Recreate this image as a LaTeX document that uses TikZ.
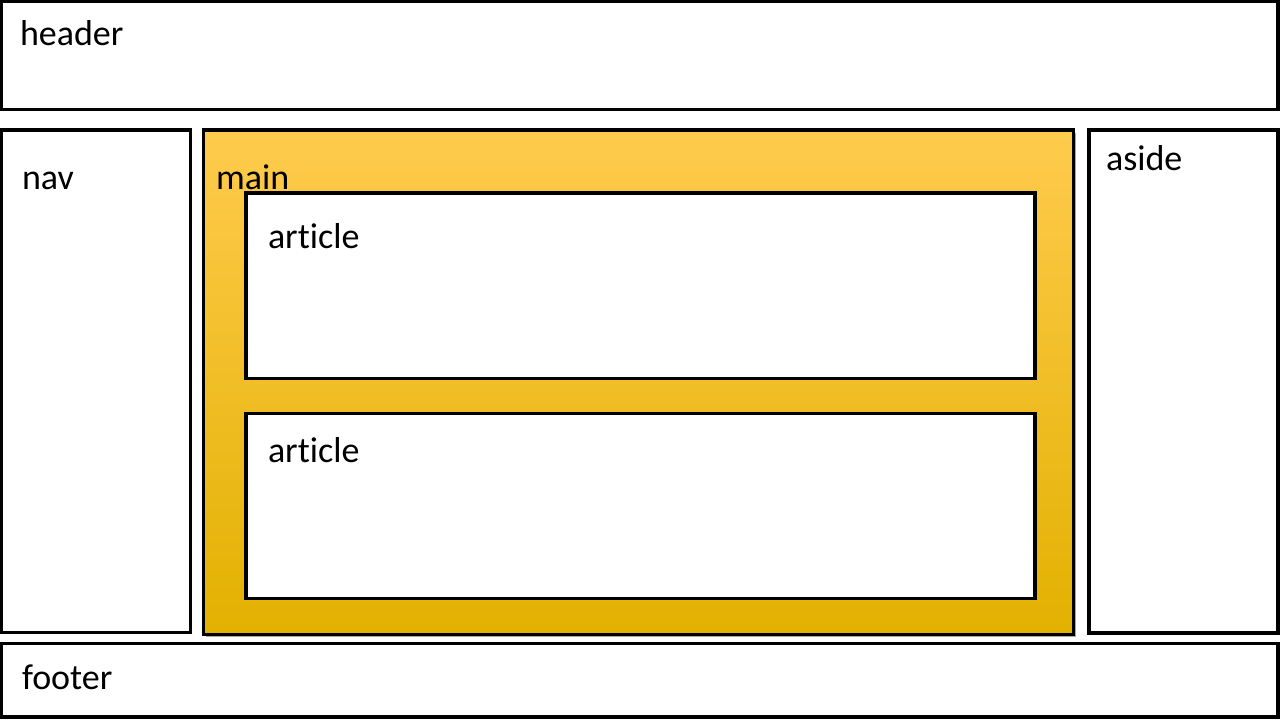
\documentclass[tikz,border=0pt]{standalone}
\usepackage{fontspec}
\setmainfont[Ligatures={NoCommon}]{Carlito}
\usetikzlibrary{shadows}
\definecolor{maintop}{HTML}{FFCB4D}
\definecolor{mainmid}{HTML}{FFC800}
\definecolor{mainbot}{HTML}{E2B100}
\tikzset{
  box/.style={draw=black, line width=3.5pt, fill=white, inner sep=0pt, outer sep=0pt, anchor=north west},
  mainbox/.style={box, top color=maintop, middle color=mainmid, bottom color=mainbot,
    drop shadow={shadow xshift=2.5pt, shadow yshift=-2.5pt, opacity=0.35, fill=black}},
  lbl/.style={anchor=base west, inner sep=0pt, outer sep=0pt, font=\fontsize{36pt}{40pt}\selectfont}
}
\begin{document}
\begin{tikzpicture}[x=1pt, y=-1pt]
  \useasboundingbox[fill=white] (0,0) rectangle (1280,720);
  % page regions
  \node[box, minimum width=1276.5pt, minimum height=108pt] (header) at (1.5,1.5) {};
  \node[box, minimum width=189pt, minimum height=502.5pt] (nav) at (1.5,130) {};
  \node[mainbox, minimum width=870pt, minimum height=504.5pt] (main) at (203.5,130) {};
  \node[box, minimum width=189pt, minimum height=503pt] (aside) at (1089,130) {};
  \node[box, minimum width=1276.5pt, minimum height=73.5pt] (footer) at (1.5,643.5) {};
  % articles inside main
  \node[box, minimum width=789pt, minimum height=185.5pt] (article1) at (246,193) {};
  \node[box, minimum width=789pt, minimum height=185pt] (article2) at (246,413.5) {};
  % labels
  \node[lbl] (tHeader) at (20,45) {header};
  \node[lbl] (tNav) at (22,189) {nav};
  \node[lbl] (tMain) at (216,189) {main};
  \node[lbl] (tAside) at (1106,170) {aside};
  \node[lbl] (tArt1) at (268,248) {article};
  \node[lbl] (tArt2) at (268,462) {article};
  \node[lbl] (tFooter) at (22,689) {footer};
\end{tikzpicture}
\end{document}
